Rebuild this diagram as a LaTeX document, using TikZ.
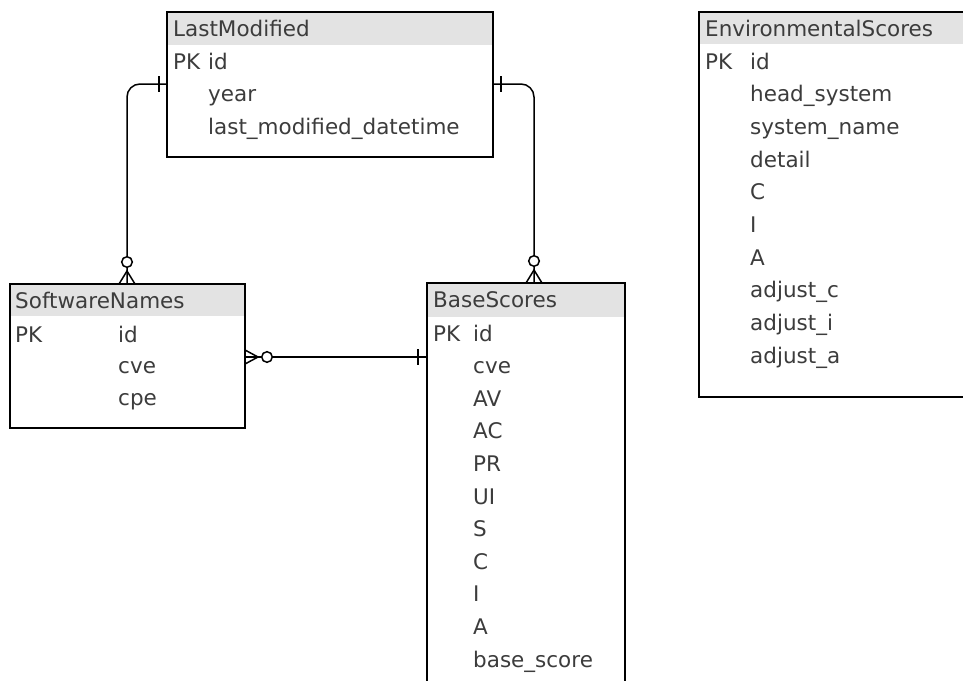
\documentclass[tikz,border=0pt]{standalone}
\usepackage{fontspec}
\setmainfont{DejaVu Sans}
\usetikzlibrary{calc}
\definecolor{hdrgrey}{HTML}{E3E3E3}
\definecolor{txtgrey}{HTML}{3C3C3C}
\begin{document}
\begin{tikzpicture}[x=1pt,y=-1pt,
  tbl/.style={anchor=north west, inner sep=0pt, outer sep=0pt},
  hdr/.style={fill=hdrgrey},
  frame/.style={draw=black, line width=1.6pt},
  fld/.style={anchor=base west, inner sep=0pt, text=txtgrey,
              font=\fontsize{21.5pt}{25pt}\selectfont},
  rel/.style={draw=black, line width=1.5pt},
  ring/.style={draw=black, fill=white, line width=1.5pt}]

\clip (0,0) rectangle (963,680);

% ---------- entity boxes ----------
\node[tbl, minimum width=326pt, minimum height=145pt] (lm) at (167,12) {};
\node[tbl, minimum width=235pt, minimum height=144pt] (sn) at (10,284) {};
\node[tbl, minimum width=198pt, minimum height=420pt] (bs) at (427,283) {};
\node[tbl, minimum width=300pt, minimum height=385pt] (es) at (699,12) {};

% header bands
\fill[hdr] (lm.north west) rectangle ($(lm.north east)+(0,33)$);
\fill[hdr] (sn.north west) rectangle ($(sn.north east)+(0,32)$);
\fill[hdr] (bs.north west) rectangle ($(bs.north east)+(0,34)$);
\fill[hdr] (es.north west) rectangle ($(es.north east)+(0,32)$);

% outlines
\draw[frame] (lm.north west) rectangle (lm.south east);
\draw[frame] (sn.north west) rectangle (sn.south east);
\draw[frame] (bs.north west) rectangle (bs.south east);
\draw[frame] (es.north west) rectangle (es.south east);

% ---------- LastModified ----------
\node[fld] (lmh) at (173,36) {LastModified};
\node[fld] (lmpk) at (173,69) {PK};
\foreach \f [count=\i from 0] in {id,year,last\_modified\_datetime}
  \node[fld] (lmf\i) at (208,69+32.5*\i) {\f};

% ---------- SoftwareNames ----------
\node[fld] (snh) at (15,308) {SoftwareNames};
\node[fld] (snpk) at (15,342) {PK};
\foreach \f [count=\i from 0] in {id,cve,cpe}
  \node[fld] (snf\i) at (118,342+31.5*\i) {\f};

% ---------- BaseScores ----------
\node[fld] (bsh) at (433,307) {BaseScores};
\node[fld] (bspk) at (433,341) {PK};
\foreach \f [count=\i from 0] in {id,cve,AV,AC,PR,UI,S,C,I,A,base\_score}
  \node[fld] (bsf\i) at (473,341+32.6*\i) {\f};

% ---------- EnvironmentalScores ----------
\node[fld] (esh) at (705,36) {EnvironmentalScores};
\node[fld] (espk) at (705,69) {PK};
\foreach \f [count=\i from 0] in {id,head\_system,system\_name,detail,C,I,A,adjust\_c,adjust\_i,adjust\_a}
  \node[fld] (esf\i) at (750,69+32.7*\i) {\f};

% ---------- relationship end points ----------
\coordinate (lmL) at ($(lm.north west)+(0,72)$);
\coordinate (lmR) at ($(lm.north east)+(0,72)$);
\coordinate (snT) at ($(sn.north west)+(117,0)$);
\coordinate (snR) at ($(sn.north east)+(0,73)$);
\coordinate (bsT) at ($(bs.north west)+(107,0)$);
\coordinate (bsL) at ($(bs.north west)+(0,74)$);

% LastModified 1 -- 0..n SoftwareNames
\draw[rel, rounded corners=13pt] (lmL) -| (snT);
\draw[rel] ($(lmL)+(-8,-8)$) -- ($(lmL)+(-8,8)$);
\draw[rel] ($(snT)+(-8,0)$) -- ($(snT)+(0,-13)$) -- ($(snT)+(8,0)$);
\draw[ring] ($(snT)+(0,-22)$) circle (5.3pt);

% LastModified 1 -- 0..n BaseScores
\draw[rel, rounded corners=13pt] (lmR) -| (bsT);
\draw[rel] ($(lmR)+(8,-8)$) -- ($(lmR)+(8,8)$);
\draw[rel] ($(bsT)+(-8,0)$) -- ($(bsT)+(0,-13)$) -- ($(bsT)+(8,0)$);
\draw[ring] ($(bsT)+(0,-22)$) circle (5.3pt);

% BaseScores 1 -- 0..n SoftwareNames
\draw[rel] (snR) -- (bsL);
\draw[rel] ($(bsL)+(-9,-8)$) -- ($(bsL)+(-9,8)$);
\draw[rel] ($(snR)+(0,-7)$) -- ($(snR)+(13,0)$) -- ($(snR)+(0,7)$);
\draw[ring] ($(snR)+(22,0)$) circle (5.3pt);

\end{tikzpicture}
\end{document}
